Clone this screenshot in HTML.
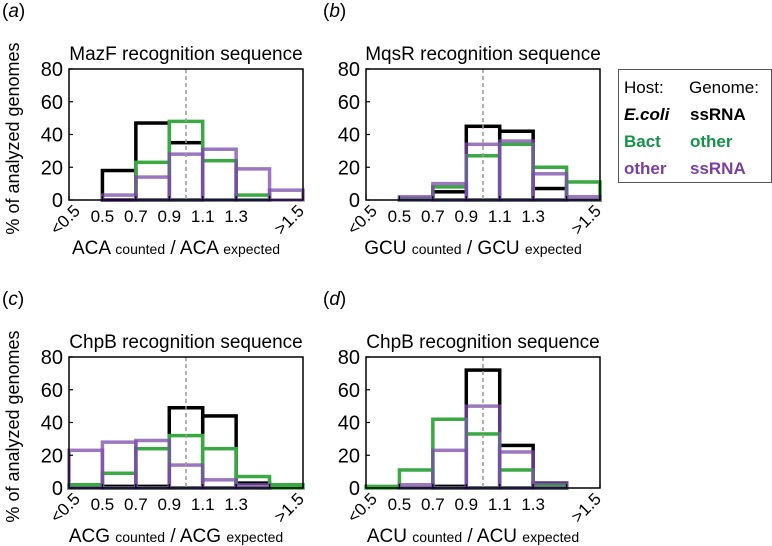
<!DOCTYPE html>
<html><head><meta charset="utf-8"><style>
body{margin:0;background:#fff;}
svg{display:block;font-family:"Liberation Sans",Arial,sans-serif;}
</style></head><body>
<svg id="c" width="772" height="546" viewBox="0 0 772 546"></svg>
<script>
const bins = ["<0.5","0.5","0.7","0.9","1.1","1.3",">1.5"];
const yTicks = [0,20,40,60,80];
const titles = ["MazF recognition sequence","MqsR recognition sequence","ChpB recognition sequence","ChpB recognition sequence"];
const codons = ["ACA","GCU","ACG","ACU"];
const panelLabels = ["a","b","c","d"];
const blackA=[0,18,47,35,0,0,0], greenA=[0,0,23,48,24,3,0], purpleA=[0,3,14,28,31,19,6];
const blackB=[0,0,5,45,42,7,0], greenB=[0,1,8,27,34,20,11], purpleB=[0,2,10,34,36,16,2];
const blackC=[0,1,1,49,44,3,0], greenC=[2,9,24,32,24,7,2], purpleC=[23,28,29,14,5,2,0];
const blackD=[0,0,1,72,26,3,0], greenD=[1,11,42,33,11,2,0], purpleD=[0,2,23,50,22,3,0];
const panels=[
 {x0:69,y0:69,b:blackA,g:greenA,p:purpleA},
 {x0:366,y0:69,b:blackB,g:greenB,p:purpleB},
 {x0:69,y0:357,b:blackC,g:greenC,p:purpleC},
 {x0:366,y0:357,b:blackD,g:greenD,p:purpleD}];
const W=234,H=131,NS="http://www.w3.org/2000/svg";
const svg=document.getElementById('c');
function el(t,a,parent,txt){const e=document.createElementNS(NS,t);for(const k in a)e.setAttribute(k,a[k]);if(txt!==undefined)e.textContent=txt;(parent||svg).appendChild(e);return e;}
panels.forEach((P,i)=>{
 const g=el('g',{});
 
 
 const bw=W/bins.length;
 const xs=k=>P.x0+k*bw;
 const ys=v=>P.y0+H-v/80*H;
 const lab=el('text',{x:i%2?323:2,y:P.y0-52,'font-size':19},g);
 lab.innerHTML='(<tspan font-style="italic">'+panelLabels[i]+'</tspan>)';
 
 
 const t=el('text',{x:P.x0+W/2,y:P.y0-9,'font-size':19,'text-anchor':'middle'},g,titles[i]);
 
 
 [[P.b,'#000',1],[P.g,'#3aa843',1],[P.p,'#7a4aa8',0.75]].forEach(([arr,col,op])=>{
  arr.forEach((v,k)=>{
   const r=el('rect',{x:xs(k),y:ys(v),width:bw,height:Math.max(0,ys(0)-ys(v)),fill:'none',stroke:col,'stroke-width':3.5,opacity:op},g);
   
   
  });
 });
 const dl=el('line',{x1:xs(3.5),x2:xs(3.5),y1:P.y0,y2:P.y0+H,stroke:'#999','stroke-width':1.5,'stroke-dasharray':'4,3'},g);
 
 
 const fr=el('rect',{x:P.x0,y:P.y0,width:W,height:H,fill:'none',stroke:'#000','stroke-width':1.5},g);
 
 
 yTicks.forEach(v=>{
  el('line',{x1:P.x0,x2:P.x0+4,y1:ys(v),y2:ys(v),stroke:'#000','stroke-width':1.2},g);
  const tl=el('text',{x:P.x0-6,y:ys(v)+7,'font-size':20,'text-anchor':'end'},g,v);
  
  
 });
 for(let k=0;k<=bins.length;k++){el('line',{x1:xs(k),x2:xs(k),y1:P.y0+H,y2:P.y0+H-4,stroke:'#000','stroke-width':1.2},g);}
 bins.forEach((b,k)=>{
  let tl;
  if(k===0) tl=el('text',{x:0,y:0,'font-size':17,'text-anchor':'end',transform:`translate(${xs(0)+12},${P.y0+H+12}) rotate(-45)`},g,b);
  else if(k===bins.length-1) tl=el('text',{x:0,y:0,'font-size':17,'text-anchor':'end',transform:`translate(${xs(7)+2},${P.y0+H+12}) rotate(-45)`},g,b);
  else tl=el('text',{x:xs(k),y:P.y0+H+22,'font-size':17,'text-anchor':'middle'},g,b);
  
  
 });
 const xt=el('text',{x:P.x0+W/2-10,y:P.y0+H+54,'font-size':19,'text-anchor':'middle'},g);
 xt.innerHTML=codons[i]+' <tspan font-size="14">counted</tspan> / '+codons[i]+' <tspan font-size="14">expected</tspan>';
 
 
 if(i%2===0){
  const yt=el('text',{x:0,y:0,'font-size':18,'text-anchor':'middle',transform:`translate(19,${P.y0+H/2+4}) rotate(-90)`},g,'% of analyzed genomes');
  
  
 }
});
const lg=el('g',{});


el('rect',{x:618.5,y:69.5,width:153,height:113,fill:'#fff',stroke:'#555','stroke-width':1},lg);
const rows=[["Host:","Genome:","#000","normal"],["E.coli","ssRNA","#000","bold"],["Bact","other","#139447","bold"],["other","ssRNA","#7a3f9e","bold"]];
rows.forEach((r,k)=>{
 const y=93+k*27;
 const a=el('text',{x:624,y:y,'font-size':17,fill:r[2],'font-weight':r[3],'font-style':k===1?'italic':'normal'},lg,r[0]);
 
 
 const b=el('text',{x:(k===0?689:690),y:y,'font-size':17,fill:r[2],'font-weight':r[3]},lg,r[1]);
 
 
});
</script>
</body></html>
